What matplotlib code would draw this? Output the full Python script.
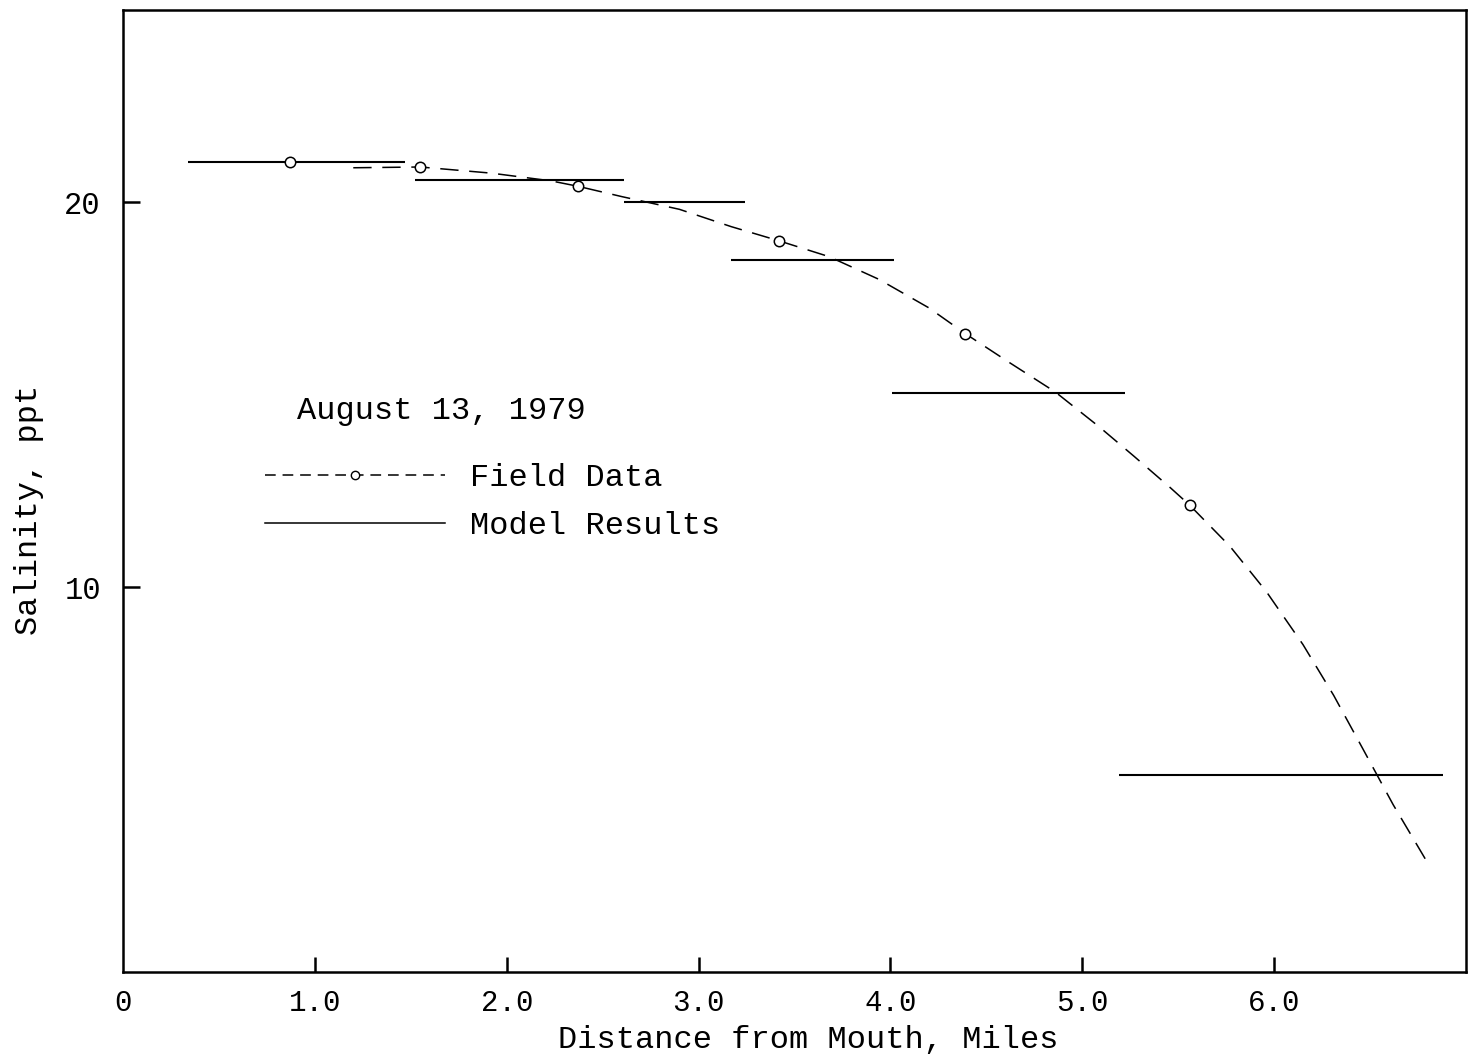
from __future__ import annotations

import matplotlib

matplotlib.use("Agg")
import matplotlib.pyplot as plt
from matplotlib.lines import Line2D

# field salinity observations (miles from mouth, ppt)
field_miles = [0.87, 1.55, 2.37, 3.42, 4.39, 5.56]
field_ppt = [21.05, 20.92, 20.42, 19.00, 16.59, 12.13]

# hand-faired curve through the field data
curve_miles = [1.20, 1.55, 1.92, 2.23, 2.37, 2.60, 2.90, 3.17, 3.42, 3.68, 3.94, 4.20, 4.39,
               4.61, 4.86, 5.09, 5.27, 5.46, 5.56, 5.77, 5.96, 6.15, 6.31, 6.46, 6.62, 6.81]
curve_ppt = [20.90, 20.92, 20.76, 20.56, 20.42, 20.15, 19.82, 19.37, 19.00, 18.59, 18.00, 17.26, 16.59,
             15.87, 15.07, 14.16, 13.40, 12.58, 12.13, 11.06, 9.88, 8.51, 7.19, 5.82, 4.35, 2.75]

# model segment averages: start mile, end mile, salinity
model_start = [0.34, 1.52, 2.61, 3.17, 4.01, 5.19]
model_end = [1.47, 2.61, 3.24, 4.02, 5.22, 6.88]
model_ppt = [21.05, 20.58, 20.00, 18.50, 15.05, 5.13]

x_ticks = [0, 1, 2, 3, 4, 5, 6]
x_tick_labels = ["0", "1.0", "2.0", "3.0", "4.0", "5.0", "6.0"]
y_ticks = [10, 20]
y_tick_labels = ["10", "20"]


def typewriter_style() -> None:
    plt.rcParams.update(
        {
            "font.family": ["Liberation Mono", "DejaVu Sans Mono"],
            "font.size": 23,
            "axes.linewidth": 1.8,
            "xtick.direction": "in",
            "ytick.direction": "in",
            "xtick.labelsize": 21,
            "ytick.labelsize": 22,
            "figure.facecolor": "white",
            "axes.facecolor": "white",
        }
    )


def main() -> int:
    typewriter_style()
    fig = plt.figure(figsize=(14.7, 10.63), dpi=100)
    ax = fig.add_axes([0.0837, 0.0856, 0.9136, 0.905])

    for x0, x1, y in zip(model_start, model_end, model_ppt):
        ax.plot([x0, x1], [y, y], color="black", linewidth=1.5, solid_capstyle="butt")
    ax.plot(curve_miles, curve_ppt, color="black", linewidth=1.1, dashes=(12.0, 7.0))
    ax.plot(field_miles, field_ppt, linestyle="none", marker="o", markersize=7.5,
            markerfacecolor="white", markeredgecolor="black", markeredgewidth=1.1, zorder=3)

    ax.set_xlim(0, 7)
    ax.set_ylim(0, 25)
    ax.set_xticks(x_ticks)
    ax.set_xticklabels(x_tick_labels)
    ax.set_yticks(y_ticks)
    ax.set_yticklabels(y_tick_labels)
    ax.tick_params(axis="x", length=11, width=1.8, pad=12)
    ax.tick_params(axis="y", length=12, width=1.8, pad=16)
    ax.xaxis.get_major_ticks()[0].tick1line.set_visible(False)

    ax.set_xlabel("Distance from Mouth, Miles")
    ax.set_ylabel("Salinity, ppt")
    ax.xaxis.set_label_coords(0.51, -0.055)
    ax.yaxis.set_label_coords(-0.059, 0.48)

    ax.text(0.1296, 0.583, "August 13, 1979", transform=ax.transAxes, va="center", ha="left")
    handles = [
        Line2D([], [], color="black", linewidth=1.1, dashes=(7.0, 4.5), marker="o", markersize=6,
               markerfacecolor="white", markeredgecolor="black", markeredgewidth=1.0),
        Line2D([], [], color="black", linewidth=1.1),
    ]
    ax.legend(handles, ["Field Data", "Model Results"], loc="upper left", bbox_to_anchor=(0.1057, 0.529),
              frameon=False, borderpad=0.0, borderaxespad=0.0, handlelength=5.65, handletextpad=0.78,
              labelspacing=0.56, numpoints=1)

    fig.savefig("out.png", dpi=100)
    plt.close(fig)
    return 0


if __name__ == "__main__":
    raise SystemExit(main())
